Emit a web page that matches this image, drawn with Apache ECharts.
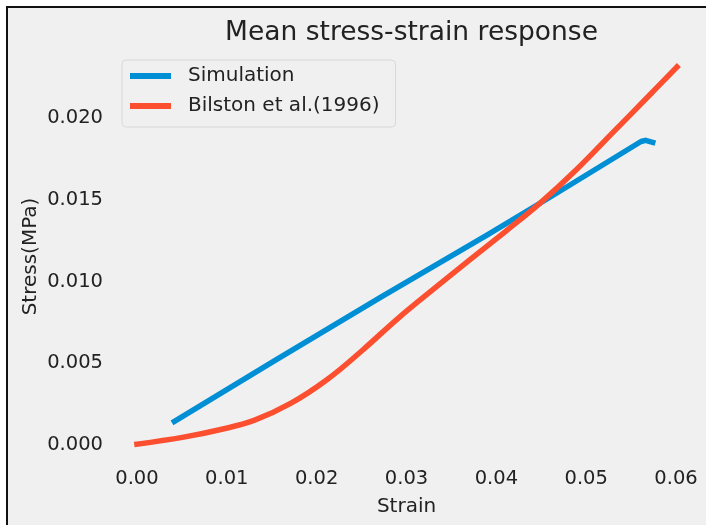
<!DOCTYPE html>
<html>
<head>
<meta charset="utf-8">
<title>Mean stress-strain response</title>
<script src="https://cdn.jsdelivr.net/npm/echarts@6/dist/echarts.min.js"></script>
<style>
  html, body { margin: 0; padding: 0; background: #fff; }
  /* figure frame: only top and left edges show in the crop */
  .frame {
    position: absolute; left: 6px; top: 6px; right: 0; bottom: 0;
    background: #f0f0f0;
    border-left: 2px solid #111; border-top: 2px solid #111;
  }
  #chart { position: absolute; left: 0; top: 0; width: 706px; height: 525px; }
</style>
</head>
<body>
<div class="frame"></div>
<div id="chart"></div>
<script>
// strain / stress (MPa)
const simStrain = [0.0039, 0.0151, 0.0271, 0.0390, 0.0461, 0.0561, 0.0566, 0.0577]
const simStress = [0.00136, 0.00509, 0.00903, 0.01284, 0.01519, 0.01855, 0.01862, 0.01845]

const bilStrain = [0.0000, 0.0052, 0.0092, 0.0131, 0.0171, 0.0211, 0.0251, 0.0290, 0.0330, 0.0370, 0.0410, 0.0449, 0.0489, 0.0529, 0.0569, 0.0601]
const bilStress = [0.00006, 0.00049, 0.00094, 0.00153, 0.00255, 0.00398, 0.00580, 0.00772, 0.00953, 0.01130, 0.01305, 0.01480, 0.01682, 0.01906, 0.02130, 0.02310]

const xTicks = [0, 0.01, 0.02, 0.03, 0.04, 0.05, 0.06]
const yTicks = [0, 0.005, 0.010, 0.015, 0.020]

const FONT = 'DejaVu Sans'
const INK = '#222'

const pairs = (xs, ys) => xs.map((x, i) => [x, ys[i]])

const chart = echarts.init(document.getElementById('chart'), null, { renderer: 'canvas' })

chart.setOption({
  backgroundColor: 'transparent',
  animation: false,
  title: {
    text: 'Mean stress-strain response',
    left: 406.5,
    textAlign: 'center',
    top: 15,
    textStyle: { fontFamily: FONT, fontSize: 26.5, fontWeight: 'normal', color: INK },
  },
  legend: {
    orient: 'vertical',
    left: 122,
    top: 60,
    padding: [6, 16, 11, 8],
    itemGap: 10,
    itemWidth: 41,
    itemHeight: 6,
    icon: 'rect',
    backgroundColor: '#f0f0f0',
    borderColor: '#d8d8d8',
    borderWidth: 1,
    borderRadius: 4,
    textStyle: { fontFamily: FONT, fontSize: 20, color: INK, padding: [0, 0, 0, 12] },
    data: ['Simulation', 'Bilston et al.(1996)'],
  },
  grid: { left: 110, right: 3, top: 49, bottom: 61 },
  xAxis: {
    type: 'value',
    min: -0.003,
    max: 0.063,
    name: 'Strain',
    nameLocation: 'middle',
    nameGap: 33,
    nameMoveOverlap: false,
    nameTextStyle: { fontFamily: FONT, fontSize: 20, color: INK },
    axisLine: { show: false },
    axisTick: { show: false },
    splitLine: { show: false },
    axisLabel: {
      customValues: xTicks,
      margin: 5,
      fontFamily: FONT,
      fontSize: 19.5,
      color: INK,
      formatter: (v) => v.toFixed(2),
    },
  },
  yAxis: {
    type: 'value',
    min: -0.00115,
    max: 0.0242,
    name: 'Stress(MPa)',
    nameLocation: 'middle',
    nameGap: 69,
    nameMoveOverlap: false,
    nameTextStyle: { fontFamily: FONT, fontSize: 20, color: INK },
    axisLine: { show: false },
    axisTick: { show: false },
    splitLine: { show: false },
    axisLabel: {
      customValues: yTicks,
      margin: 7,
      fontFamily: FONT,
      fontSize: 19.5,
      color: INK,
      formatter: (v) => v.toFixed(3),
    },
  },
  series: [
    {
      name: 'Simulation',
      type: 'line',
      data: pairs(simStrain, simStress),
      showSymbol: false,
      color: '#008fd5',
      lineStyle: { width: 5.5, cap: 'butt', join: 'round' },
    },
    {
      name: 'Bilston et al.(1996)',
      type: 'line',
      data: pairs(bilStrain, bilStress),
      smooth: 0.4,
      showSymbol: false,
      color: '#fc4f30',
      lineStyle: { width: 5.5, cap: 'square' },
    },
  ],
})
</script>
</body>
</html>
